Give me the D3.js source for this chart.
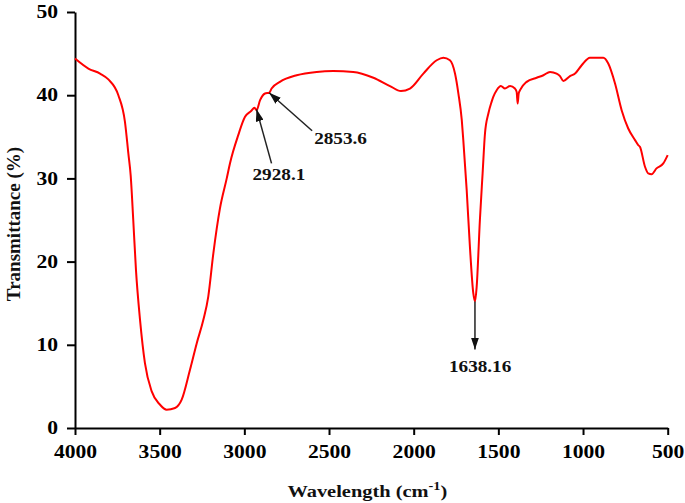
<!DOCTYPE html>
<html>
<head>
<meta charset="utf-8">
<script src="https://cdn.jsdelivr.net/npm/d3@7"></script>
<style>
  body { margin: 0; background: #fff; }
  svg { display: block; }
  text { font-family: "Liberation Serif", "Times New Roman", serif; font-weight: bold; }
</style>
</head>
<body>
<svg id="chart"></svg>
<script>
// wavenumber (cm-1) and transmittance (%)
const wavenumbers = [4000, 3921, 3852, 3803, 3744, 3705, 3685, 3671, 3656, 3640, 3616, 3587, 3547, 3498, 3459, 3409, 3370, 3321, 3281, 3242, 3213, 3183, 3144, 3104, 3085, 3036, 2996, 2960, 2940, 2928, 2907, 2878, 2853, 2839, 2790, 2691, 2573, 2475, 2357, 2238, 2140, 2075, 2022, 1943, 1864, 1825, 1786, 1756, 1736, 1716, 1707, 1687, 1668, 1648, 1638, 1628, 1609, 1593, 1579, 1559, 1540, 1530, 1510, 1485, 1461, 1431, 1402, 1392, 1386, 1380, 1372, 1333, 1274, 1234, 1195, 1156, 1136, 1116, 1077, 1047, 1008, 959, 880, 851, 811, 772, 733, 693, 674, 664, 634, 615, 595, 566, 526, 500];
const transmittance = [44.4, 43.2, 42.6, 41.9, 40.0, 36.8, 33.0, 30.3, 25.0, 19.0, 13.0, 7.8, 4.4, 2.8, 2.2, 2.4, 3.4, 7.0, 10.2, 13.0, 15.8, 21.0, 26.4, 30.0, 31.8, 35.2, 37.4, 38.1, 38.5, 38.2, 39.4, 40.2, 40.3, 40.8, 41.6, 42.4, 42.8, 42.9, 42.8, 42.1, 41.1, 40.5, 40.8, 42.6, 44.2, 44.5, 44.2, 42.6, 40.2, 37.0, 34.6, 28.6, 21.8, 16.2, 15.2, 17.0, 25.0, 30.6, 35.4, 37.8, 39.2, 39.8, 40.6, 41.1, 40.8, 41.1, 40.8, 40.4, 39.0, 40.2, 40.6, 41.6, 42.1, 42.4, 42.8, 42.6, 42.3, 41.7, 42.3, 42.6, 43.6, 44.5, 44.5, 43.8, 41.4, 38.2, 36.0, 34.6, 34.0, 33.8, 31.4, 30.6, 30.5, 31.2, 31.8, 32.8];
const xTicks = [4000, 3500, 3000, 2500, 2000, 1500, 1000, 500];
const yTicks = [0, 10, 20, 30, 40, 50];
const peakLabels = ['2928.1', '2853.6', '1638.16'];
const peakWavenumbers = [2928.1, 2853.6, 1638.16];
const peakValues = [38.3, 40.3, 15.2];

const W = 685, H = 503;
const margin = { top: 12, right: 17, bottom: 75, left: 75 };
const w = 667.7 - margin.left;
const h = 428 - margin.top;
const sx = 1.2; // glyphs in the picture are widened

const svg = d3.select('#chart').attr('width', W).attr('height', H);
const g = svg.append('g').attr('transform', `translate(${margin.left},${margin.top})`);

const x = d3.scaleLinear().domain([4000, 500]).range([0, w]);
const y = d3.scaleLinear().domain([0, 50]).range([h, 0]);

// widen tick label glyphs around their anchor
const stretch = sel => sel.each(function () {
  const t = d3.select(this);
  const tx = +t.attr('x') || 0, ty = +t.attr('y') || 0;
  t.attr('x', 0).attr('y', 0).attr('transform', `translate(${tx},${ty}) scale(${sx},1)`);
});

const xAxis = d3.axisBottom(x).tickValues(xTicks).tickFormat(d3.format('d'))
  .tickSize(7).tickSizeOuter(0).tickPadding(10);
const yAxis = d3.axisLeft(y).tickValues(yTicks).tickFormat(d3.format('d'))
  .tickSize(8).tickSizeOuter(0).tickPadding(9);

const gx = g.append('g').attr('transform', `translate(0,${h})`).call(xAxis);
const gy = g.append('g').call(yAxis);
[gx, gy].forEach(a => {
  a.select('.domain').attr('stroke', '#000').attr('stroke-width', 2);
  a.selectAll('.tick line').attr('stroke', '#000').attr('stroke-width', 2);
  a.selectAll('.tick text').attr('fill', '#000').style('font-size', '18px')
    .style('font-family', '"Liberation Serif", serif').style('font-weight', 'bold');
});
gx.selectAll('.tick text').call(stretch);
gy.selectAll('.tick text').call(stretch);

// spectrum
const pts = wavenumbers.map((d, i) => [d, transmittance[i]]);
const line = d3.line().x(d => x(d[0])).y(d => y(d[1])).curve(d3.curveMonotoneX);
g.append('path').datum(pts)
  .attr('d', line)
  .attr('fill', 'none')
  .attr('stroke', '#ff0000')
  .attr('stroke-width', 2)
  .attr('stroke-linejoin', 'round');

// arrow marker
svg.append('defs').append('marker')
  .attr('id', 'head').attr('viewBox', '0 0 12 8')
  .attr('refX', 12).attr('refY', 4)
  .attr('markerWidth', 12).attr('markerHeight', 8)
  .attr('markerUnits', 'userSpaceOnUse')
  .attr('orient', 'auto')
  .append('path').attr('d', 'M0,0 L12,4 L0,8 Z').attr('fill', '#111');

// tail and label offsets from each peak
const tailOff = [[15, 54], [43, 38], [0, 48]];
const labelOff = [[-4, 71], [45, 51], [-26, 70]];
const headAtPeak = [true, true, false];

peakLabels.forEach((lab, i) => {
  const px = x(peakWavenumbers[i]), py = y(peakValues[i]);
  const tx = px + tailOff[i][0], ty = py + tailOff[i][1];
  const a = headAtPeak[i] ? [tx, ty, px, py] : [px, py, tx, ty];
  g.append('line')
    .attr('x1', a[0]).attr('y1', a[1]).attr('x2', a[2]).attr('y2', a[3])
    .attr('stroke', '#222').attr('stroke-width', 1.5)
    .attr('marker-end', 'url(#head)');
  g.append('text')
    .attr('transform', `translate(${px + labelOff[i][0]},${py + labelOff[i][1]}) scale(${sx},1)`)
    .style('font-size', '16px')
    .attr('fill', '#111')
    .text(lab);
});

// axis titles
const xt = svg.append('text')
  .attr('transform', `translate(${margin.left + w / 2 - 4},497) scale(${sx},1)`)
  .attr('text-anchor', 'middle')
  .style('font-size', '17px')
  .attr('fill', '#111');
xt.append('tspan').text('Wavelength (cm');
xt.append('tspan').attr('dy', -7).style('font-size', '12px').text('-1');
xt.append('tspan').attr('dy', 7).text(')');

svg.append('text')
  .attr('transform', `translate(20,${margin.top + h / 2 + 4}) rotate(-90)`)
  .attr('text-anchor', 'middle')
  .style('font-size', '19px')
  .attr('fill', '#111')
  .text('Transmittance (%)');
</script>
</body>
</html>
